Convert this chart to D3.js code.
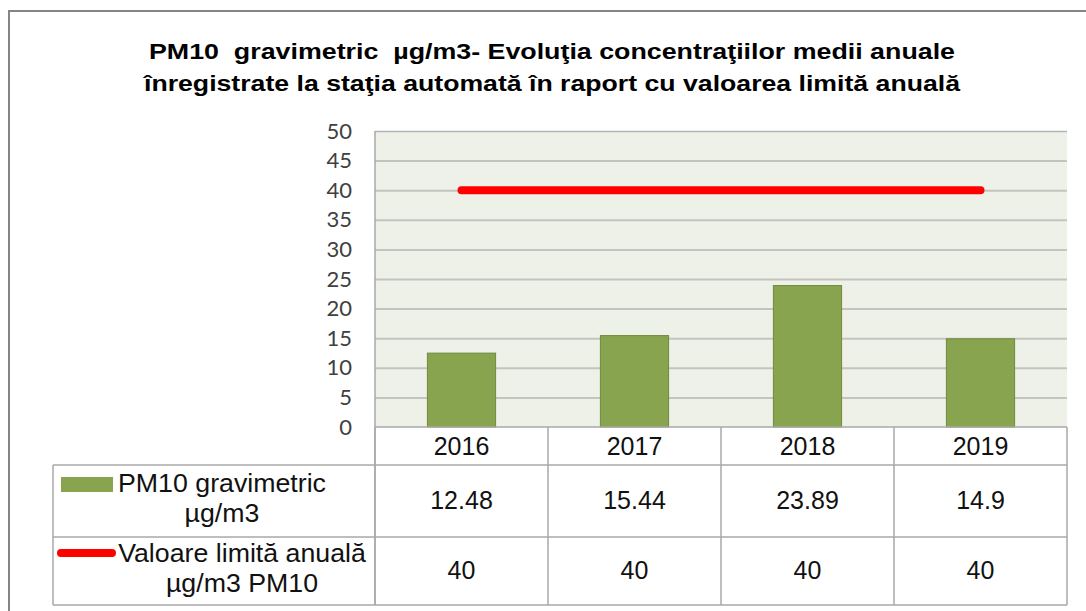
<!DOCTYPE html>
<html>
<head>
<meta charset="utf-8">
<script src="https://cdn.jsdelivr.net/npm/d3@7"></script>
<style>
  html, body { margin: 0; padding: 0; background: #fff; }
  svg { display: block; }
  text { white-space: pre; }
</style>
</head>
<body>
<svg id="chart" width="1086" height="611"></svg>
<script>
// ---- Data ----
const categories = ["2016", "2017", "2018", "2019"];
const pm10Values = [12.48, 15.44, 23.89, 14.9];
const limitValues = [40, 40, 40, 40];
const pm10Labels = ["12.48", "15.44", "23.89", "14.9"];
const limitLabels = ["40", "40", "40", "40"];
const yTicks = [0, 5, 10, 15, 20, 25, 30, 35, 40, 45, 50];
const titleLines = [
  "PM10  gravimetric  µg/m3- Evoluţia concentraţiilor medii anuale",
  "înregistrate la staţia automată în raport cu valoarea limită anuală"
];
const seriesNames = [
  ["PM10 gravimetric", "µg/m3"],
  ["Valoare limită anuală", "µg/m3 PM10"]
];

// ---- Layout ----
const svg = d3.select("#chart");
const plotLeft = 375, plotRight = 1067, plotTop = 131, plotBottom = 427;
const tableLeft = 53, rowLines = [465, 537, 605];
const green = "#88a44e", greenEdge = "#6f8a3c", red = "#ff0000";
const tableFont = "'Liberation Sans', Arial, sans-serif";

const x = d3.scaleBand().domain(categories).range([plotLeft, plotRight])
  .paddingInner(0.6).paddingOuter(0.3);
const y = d3.scaleLinear().domain([0, 50]).range([plotBottom, plotTop]);

// outer frame
svg.append("path")
  .attr("d", `M9,${620} L9,11 L${1100},11`)
  .attr("fill", "none").attr("stroke", "#858585").attr("stroke-width", 2);

// title
const title = svg.append("g");
[59, 91].forEach((by, i) => {
  title.append("text")
    .attr("x", 552).attr("y", by)
    .attr("text-anchor", "middle")
    .attr("font-family", tableFont)
    .attr("font-weight", "bold")
    .attr("font-size", 22)
    .attr("fill", "#000")
    .attr("textLength", i === 0 ? 806 : 816)
    .attr("lengthAdjust", "spacingAndGlyphs")
    .text(titleLines[i]);
});

// plot background
svg.append("rect")
  .attr("x", plotLeft).attr("y", plotTop)
  .attr("width", plotRight - plotLeft).attr("height", plotBottom - plotTop)
  .attr("fill", "#eef1e8");

// gridlines
const grid = svg.append("g").attr("transform", `translate(${plotLeft},0)`)
  .call(d3.axisLeft(y).tickValues(yTicks.filter(d => d > 0)).tickSize(-(plotRight - plotLeft)).tickFormat(""));
grid.select(".domain").remove();
grid.selectAll(".tick line").attr("stroke", "#c3c4c0").attr("stroke-width", 2);
grid.selectAll(".tick").filter(d => d === 50).select("line").attr("stroke", "#b4b4b4").attr("stroke-width", 1.5);

// y axis labels
const yAxis = svg.append("g").attr("transform", `translate(${plotLeft},0)`)
  .call(d3.axisLeft(y).tickValues(yTicks).tickSize(0).tickPadding(23));
yAxis.select(".domain").remove();
yAxis.selectAll("text")
  .attr("font-family", "Lato, 'Open Sans', sans-serif")
  .attr("font-size", 22)
  .attr("fill", "#404040");

// bars
svg.append("g").selectAll("rect")
  .data(categories.map((c, i) => ({ c, v: pm10Values[i] })))
  .join("rect")
  .attr("x", d => x(d.c) + 0.5)
  .attr("y", d => y(d.v))
  .attr("width", x.bandwidth() - 1)
  .attr("height", d => y(0) - y(d.v))
  .attr("fill", green)
  .attr("stroke", greenEdge)
  .attr("stroke-width", 1);

// limit line
const line = d3.line()
  .x((d, i) => x(categories[i]) + x.bandwidth() / 2)
  .y(d => y(d));
svg.append("path")
  .datum(limitValues)
  .attr("d", line)
  .attr("fill", "none")
  .attr("stroke", red)
  .attr("stroke-width", 8)
  .attr("stroke-linecap", "round");

// plot left border & axis line
const lineColor = "#a8a8a8";
svg.append("line").attr("x1", plotLeft).attr("x2", plotLeft).attr("y1", plotTop).attr("y2", rowLines[2])
  .attr("stroke", lineColor).attr("stroke-width", 1.5);
svg.append("line").attr("x1", plotLeft).attr("x2", plotRight).attr("y1", plotBottom).attr("y2", plotBottom)
  .attr("stroke", lineColor).attr("stroke-width", 1.5);

// ---- data table ----
const tbl = svg.append("g");
rowLines.forEach(ly => {
  tbl.append("line").attr("x1", tableLeft).attr("x2", plotRight).attr("y1", ly).attr("y2", ly)
    .attr("stroke", lineColor).attr("stroke-width", 1.5);
});
const bounds = categories.map(c => x(c) - (x.step() - x.bandwidth()) / 2).concat([plotRight]);
bounds.forEach(bx => {
  tbl.append("line").attr("x1", bx).attr("x2", bx).attr("y1", plotBottom).attr("y2", rowLines[2])
    .attr("stroke", lineColor).attr("stroke-width", 1.5);
});
tbl.append("line").attr("x1", tableLeft).attr("x2", tableLeft).attr("y1", rowLines[0]).attr("y2", rowLines[2])
  .attr("stroke", lineColor).attr("stroke-width", 1.5);

const cellText = (tx, ty, t, sx) => tbl.append("text")
  .attr("transform", `translate(${tx},${ty}) scale(${sx || 1},1)`)
  .attr("text-anchor", "middle")
  .attr("font-family", tableFont).attr("font-size", 25).attr("fill", "#111")
  .text(t);

categories.forEach((c, i) => {
  const cx = x(c) + x.bandwidth() / 2;
  cellText(cx, 455, c);
  cellText(cx, 509, pm10Labels[i]);
  cellText(cx, 579, limitLabels[i]);
});

// row headers
cellText(222, 492, seriesNames[0][0], 1.07);
cellText(222, 522, seriesNames[0][1], 1.07);
cellText(242, 562, seriesNames[1][0], 1.07);
cellText(242, 592, seriesNames[1][1], 1.07);

// legend swatches
tbl.append("rect").attr("x", 61).attr("y", 477).attr("width", 52).attr("height", 15)
  .attr("fill", green);
tbl.append("line").attr("x1", 61).attr("x2", 112).attr("y1", 553).attr("y2", 553)
  .attr("stroke", red).attr("stroke-width", 8).attr("stroke-linecap", "round");
</script>
</body>
</html>
